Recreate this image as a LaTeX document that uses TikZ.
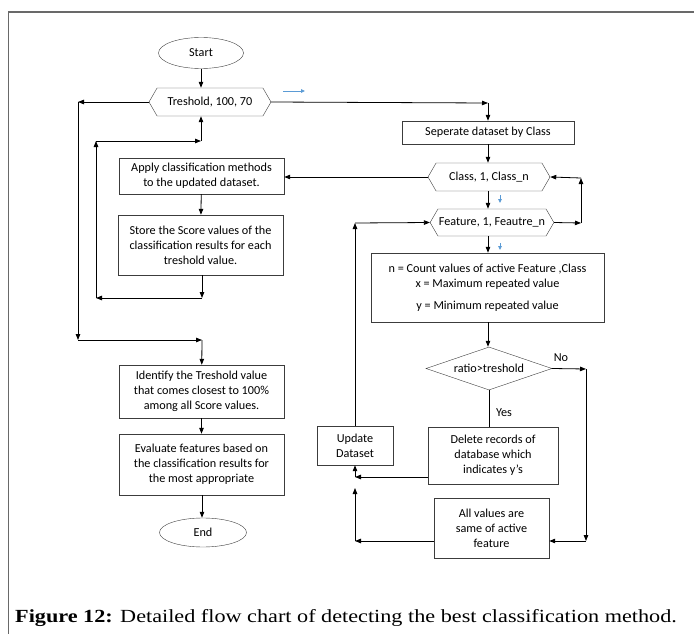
\documentclass[tikz,border=0pt]{standalone}
\usepackage{fontspec}
\setmainfont{Carlito}
\newfontfamily\capfont[FakeStretch=1.2]{Liberation Serif}
\usepackage{tikz}
\usetikzlibrary{shapes.geometric, shapes.symbols, arrows.meta}
\definecolor{framegray}{RGB}{105,105,105}
\definecolor{boxgray}{RGB}{60,60,60}
\definecolor{hintblue}{RGB}{91,155,213}
\newcommand{\diagfont}{\fontsize{12.2}{15}\selectfont}

\begin{document}
\begin{tikzpicture}[
    x=1pt, y=-1pt,
    box/.style={draw=boxgray, minimum width=165, align=center, inner sep=2pt, font=\diagfont},
    hexa/.style={draw=boxgray, signal, signal to=east and west, signal pointer angle=120, minimum height=28, minimum width=122, inner sep=1pt, font=\diagfont},
    term/.style={draw=boxgray, ellipse, inner sep=0pt, font=\diagfont},
    decide/.style={draw=boxgray, diamond, aspect=2.9, minimum width=126, minimum height=43, inner sep=0pt, font=\diagfont},
    arrow/.style={-{Triangle[length=6pt, width=4.5pt]}, line width=0.8pt},
    line/.style={line width=0.8pt},
    hint/.style={-{Triangle[length=4pt, width=3.5pt]}, hintblue, line width=0.9pt}
]
    \useasboundingbox (0,0) rectangle (694,634);
    % figure frame
    \draw[framegray, line width=1.6pt] (8.5,640) -- (8.5,12) -- (700,12);

    % left column
    \node[term, minimum width=85, minimum height=31] (start) at (201,53) {Start};
    \node[hexa] (tresh) at (210,102) {Treshold, 100, 70};
    \node[box, minimum height=36] (apply) at (201.5,176) {Apply classification methods\\to the updated dataset.};
    \node[box, minimum height=60] (store) at (200.5,245) {Store the Score values of the\\classification results for each\\treshold value.};
    \node[box, minimum height=53] (ident) at (201.5,391.5) {Identify the Treshold value\\that comes closest to 100\%\\among all Score values.};
    \node[box, minimum height=61] (evalf) at (201.5,464.5) {Evaluate  features based on\\the classification results for\\the most appropriate};
    \node[term, minimum width=87, minimum height=29] (finish) at (203,532.5) {End};

    % right column
    \node[box, minimum width=172, minimum height=23] (sep) at (488,132.5) {Seperate dataset by Class};
    \node[hexa] (class) at (489,177) {Class, 1, Class\_n};
    \node[hexa, minimum height=27] (feat) at (492,222.5) {Feature, 1, Feautre\_n};
    \node[box, minimum width=233, minimum height=69] (count) at (487.5,287.5) {n = Count values of active Feature ,Class\\x = Maximum repeated value\\[7pt]y = Minimum repeated value};
    \node[decide] (ratio) at (489,368.5) {ratio>treshold};
    \node[box, minimum width=130, minimum height=57] (delrec) at (493,455.5) {Delete records of\\database  which\\indicates y's};
    \node[box, minimum width=115, minimum height=60] (allv) at (491.5,528) {All values are\\same of active\\feature};
    \node[box, minimum width=76, minimum height=39] (update) at (355,445.5) {Update\\Dataset};
    \node[font=\diagfont] (no) at (561,358) {No};
    \node[font=\diagfont] (yes) at (504,413) {Yes};

    % corners
    \coordinate (c1) at (78,102);
    \coordinate (c2) at (78,340);
    \coordinate (c3) at (202,340);
    \coordinate (c4) at (202,298);
    \coordinate (c5) at (96,298);
    \coordinate (c6) at (96,141);
    \coordinate (c7) at (201,141);
    \coordinate (c8) at (488,103);
    \coordinate (c9) at (581,223);
    \coordinate (c10) at (581,178);
    \coordinate (c11) at (586,369);
    \coordinate (c12) at (586,541);
    \coordinate (c13) at (355,477);
    \coordinate (c14) at (355,541);
    \coordinate (c15) at (355,488);
    \coordinate (c16) at (355,223);

    % left flow
    \draw[arrow] (start) -- (start |- tresh.north);
    \draw[arrow] (tresh.west) -- (c1);
    \draw[arrow] (c1) -- (c2);
    \draw[arrow] (c2) -- (c3);
    \draw[arrow] (c3) -- (ident);
    \draw[arrow] (apply) -- (store);
    \draw[arrow] (store.south -| c4) -- (c4);
    \draw[arrow] (c4) -- (c5);
    \draw[arrow] (c5) -- (c6);
    \draw[arrow] (c6) -- (c7);
    \draw[arrow] (c7) -- (c7 |- tresh.south);
    \draw[arrow] (ident) -- (evalf);
    \draw[arrow] (evalf.south -| c3) -- (c3 |- finish.north);

    % right flow
    \draw[arrow] (tresh.east) -- (c8);
    \draw[arrow] (c8) -- (sep);
    \draw[arrow] (sep) -- (sep.south |- class.north);
    \draw[arrow] (class.south -| sep) -- (sep |- feat.north);
    \draw[arrow] (feat.south -| sep) -- (sep |- count.north);
    \draw[arrow] (count.south -| sep) -- (sep |- ratio.north);
    \draw[arrow] (class.west) -- (class.west -| apply.east);
    \draw[arrow] (feat.east) -- (c9);
    \draw[arrow] (c9) -- (c10);
    \draw[arrow] (c10) -- (class.east);
    \draw[arrow] (ratio.east) -- (c11);
    \draw[arrow] (c11) -- (c12);
    \draw[arrow] (c12) -- (c12 -| allv.east);
    \draw[line] (ratio.south) -- (ratio.south |- delrec.north);
    \draw[arrow] (c13 -| delrec.west) -- (c13);
    \draw[arrow] (c14 -| allv.west) -- (c14);
    \draw[arrow] (c14) -- (c15);
    \draw[arrow] (c13) -- (update.south);
    \draw[arrow] (update.north) -- (c16);
    \draw[arrow] (c16) -- (feat.west);

    % blue markers
    \coordinate (b1) at (283,91);
    \coordinate (b2) at (305,91);
    \coordinate (b3) at (500,195);
    \coordinate (b4) at (500,203);
    \coordinate (b5) at (500,243);
    \coordinate (b6) at (500,250);
    \draw[hint] (b1) -- (b2);
    \draw[hint] (b3) -- (b4);
    \draw[hint] (b5) -- (b6);

    % caption
    \node[anchor=base west, inner sep=0pt, font=\capfont\fontsize{18.5}{20}\selectfont] (caption) at (15,622) {\textbf{Figure 12:} Detailed flow chart of detecting the best classification method.};
\end{tikzpicture}
\end{document}
